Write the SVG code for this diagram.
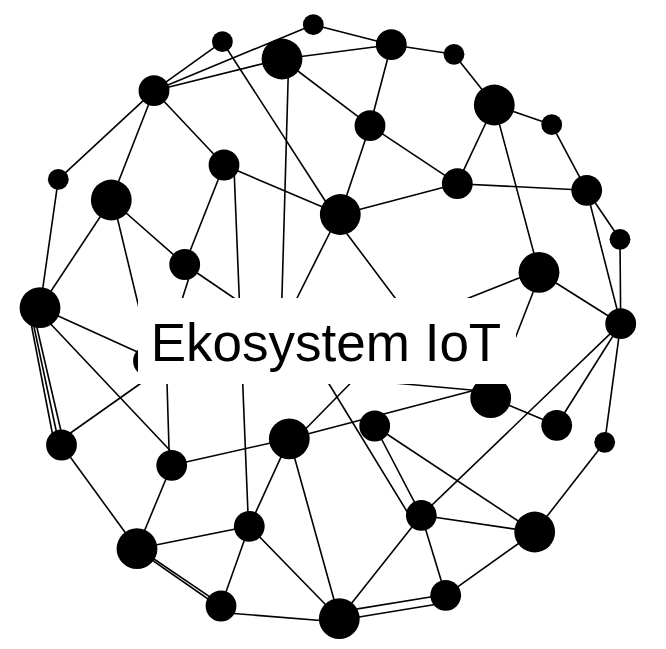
<svg xmlns="http://www.w3.org/2000/svg" width="666" height="649" viewBox="0 0 666 649">
<style>
.e line{stroke:#000;stroke-width:1.6;fill:none}
.n circle{fill:#000}
.lbl{font-family:"Liberation Sans",Arial,sans-serif;font-size:53px;fill:#000}
</style>
<rect x="0" y="0" width="666" height="649" fill="#fff"/>
<g id="connectors" class="e">
<line x1="154" y1="90.7" x2="222.4" y2="41.7"/>
<line x1="154" y1="90.7" x2="313.3" y2="24.7"/>
<line x1="154" y1="90.7" x2="282" y2="59"/>
<line x1="154" y1="90.7" x2="58.3" y2="179.3"/>
<line x1="154" y1="90.7" x2="111.3" y2="200"/>
<line x1="154" y1="90.7" x2="224" y2="165"/>
<line x1="222.4" y1="41.7" x2="334" y2="214.5"/>
<line x1="313.3" y1="24.7" x2="391.3" y2="44.7"/>
<line x1="282" y1="59" x2="391.3" y2="44.7"/>
<line x1="391.3" y1="44.7" x2="454" y2="54.3"/>
<line x1="391.3" y1="44.7" x2="370" y2="125.7"/>
<line x1="282" y1="59" x2="370" y2="125.7"/>
<line x1="288.6" y1="62" x2="281" y2="330"/>
<line x1="370" y1="125.7" x2="340.3" y2="214.5"/>
<line x1="370" y1="125.7" x2="457.3" y2="183.7"/>
<line x1="340.3" y1="214.5" x2="457.3" y2="183.7"/>
<line x1="224" y1="165" x2="340.3" y2="214.5"/>
<line x1="224" y1="165" x2="184.7" y2="264.5"/>
<line x1="234" y1="168" x2="248.5" y2="526"/>
<line x1="454" y1="54.3" x2="494.3" y2="105"/>
<line x1="494.3" y1="105" x2="551.7" y2="124.7"/>
<line x1="494.3" y1="105" x2="457.3" y2="183.7"/>
<line x1="494.3" y1="105" x2="539" y2="272.3"/>
<line x1="551.7" y1="124.7" x2="586.7" y2="190.3"/>
<line x1="457.3" y1="183.7" x2="586.7" y2="190.3"/>
<line x1="586.7" y1="190.3" x2="620.7" y2="323.7"/>
<line x1="586.7" y1="190.3" x2="620" y2="239.3"/>
<line x1="620" y1="239.3" x2="620.7" y2="323.7"/>
<line x1="539" y1="272.3" x2="620.7" y2="323.7"/>
<line x1="539" y1="270" x2="412" y2="320.5"/>
<line x1="541" y1="272" x2="492" y2="397.7"/>
<line x1="336.6" y1="220" x2="412" y2="320.5"/>
<line x1="338.9" y1="214.5" x2="281" y2="330"/>
<line x1="184.7" y1="264.5" x2="281" y2="330"/>
<line x1="193" y1="265" x2="166" y2="350"/>
<line x1="113" y1="200" x2="151.8" y2="361"/>
<line x1="111.3" y1="200" x2="184.7" y2="264.5"/>
<line x1="111.3" y1="200" x2="40" y2="307.7"/>
<line x1="58.3" y1="179.3" x2="40" y2="307.7"/>
<line x1="40" y1="307.7" x2="148.5" y2="357"/>
<line x1="35.6" y1="308" x2="180" y2="461"/>
<line x1="28.1" y1="308" x2="54.4" y2="444"/>
<line x1="30" y1="308" x2="59" y2="444"/>
<line x1="32.4" y1="308" x2="64" y2="444"/>
<line x1="54.9" y1="444" x2="195" y2="345"/>
<line x1="169.5" y1="465" x2="166" y2="350"/>
<line x1="61.5" y1="445" x2="137" y2="548.7"/>
<line x1="171.7" y1="465.3" x2="137" y2="548.7"/>
<line x1="171.7" y1="465.3" x2="289.3" y2="438.8"/>
<line x1="137" y1="548.7" x2="249.3" y2="526.3"/>
<line x1="137" y1="547.5" x2="221" y2="604.3"/>
<line x1="137" y1="549.7" x2="221" y2="608"/>
<line x1="249.3" y1="526.3" x2="289.3" y2="438.8"/>
<line x1="249.3" y1="526.3" x2="221" y2="606"/>
<line x1="249.3" y1="526.3" x2="339.3" y2="618.7"/>
<line x1="289.3" y1="438.8" x2="339.3" y2="618.7"/>
<line x1="289.3" y1="438.8" x2="490.7" y2="386"/>
<line x1="412" y1="320.5" x2="296" y2="438.8"/>
<line x1="308.3" y1="350" x2="409.3" y2="515.3"/>
<line x1="300" y1="374.5" x2="490.7" y2="391.8"/>
<line x1="374.7" y1="426" x2="421.3" y2="515.3"/>
<line x1="374.7" y1="426" x2="534.7" y2="532"/>
<line x1="421.3" y1="515.3" x2="534.7" y2="532"/>
<line x1="421.3" y1="515.3" x2="445.7" y2="595.3"/>
<line x1="421.3" y1="515.3" x2="339.3" y2="618.7"/>
<line x1="620.7" y1="323.7" x2="421.3" y2="515.3"/>
<line x1="620.7" y1="323.7" x2="556.7" y2="425.3"/>
<line x1="620.7" y1="323.7" x2="604.7" y2="442.3"/>
<line x1="490.7" y1="397.7" x2="556.7" y2="425.3"/>
<line x1="604.7" y1="442.3" x2="534.7" y2="532"/>
<line x1="534.7" y1="532" x2="445.7" y2="595.3"/>
<line x1="339.3" y1="611.9" x2="445.7" y2="594.5"/>
<line x1="339.3" y1="620.2" x2="445.7" y2="602.8"/>
<line x1="221" y1="612.5" x2="339.3" y2="622"/>
</g>
<g class="n">
<g id="n1"><circle cx="313.3" cy="24.7" r="10.4"/></g>
<g id="n2"><circle cx="222.4" cy="41.7" r="10.4"/></g>
<g id="n3"><circle cx="282" cy="59" r="20.4"/></g>
<g id="n4"><circle cx="391.3" cy="44.7" r="15.4"/></g>
<g id="n5"><circle cx="454" cy="54.3" r="10.4"/></g>
<g id="n6"><circle cx="154" cy="90.7" r="15.4"/></g>
<g id="n7"><circle cx="494.3" cy="105" r="20.4"/></g>
<g id="n8"><circle cx="370" cy="125.7" r="15.4"/></g>
<g id="n9"><circle cx="551.7" cy="124.7" r="10.4"/></g>
<g id="n10"><circle cx="58.3" cy="179.3" r="10.4"/></g>
<g id="n11"><circle cx="224" cy="165" r="15.4"/></g>
<g id="n12"><circle cx="111.3" cy="200" r="20.4"/></g>
<g id="n13"><circle cx="457.3" cy="183.7" r="15.4"/></g>
<g id="n14"><circle cx="586.7" cy="190.3" r="15.4"/></g>
<g id="n15"><circle cx="340.3" cy="214.5" r="20.4"/></g>
<g id="n16"><circle cx="620" cy="239.3" r="10.4"/></g>
<g id="n17"><circle cx="184.7" cy="264.5" r="15.4"/></g>
<g id="n18"><circle cx="539" cy="272.3" r="20.4"/></g>
<g id="n19"><circle cx="40" cy="307.7" r="20.4"/></g>
<g id="n20"><circle cx="620.7" cy="323.7" r="15.4"/></g>
<g id="n21"><circle cx="148.5" cy="361" r="15.4"/></g>
<g id="n22"><circle cx="490.7" cy="397.7" r="20.4"/></g>
<g id="n23"><circle cx="61.5" cy="445" r="15.4"/></g>
<g id="n24"><circle cx="171.7" cy="465.3" r="15.4"/></g>
<g id="n25"><circle cx="289.3" cy="438.8" r="20.4"/></g>
<g id="n26"><circle cx="374.7" cy="426" r="15.4"/></g>
<g id="n27"><circle cx="556.7" cy="425.3" r="15.4"/></g>
<g id="n28"><circle cx="604.7" cy="442.3" r="10.4"/></g>
<g id="n29"><circle cx="249.3" cy="526.3" r="15.4"/></g>
<g id="n30"><circle cx="421.3" cy="515.3" r="15.4"/></g>
<g id="n31"><circle cx="137" cy="548.7" r="20.4"/></g>
<g id="n32"><circle cx="534.7" cy="532" r="20.4"/></g>
<g id="n33"><circle cx="221" cy="606" r="15.4"/></g>
<g id="n34"><circle cx="339.3" cy="618.7" r="20.4"/></g>
<g id="n35"><circle cx="445.7" cy="595.3" r="15.4"/></g>
</g>
<g id="label">
<rect x="138" y="298" width="378" height="86" fill="#fff"/>
<text class="lbl" x="326" y="361" text-anchor="middle">Ekosystem IoT</text>
</g>
</svg>
